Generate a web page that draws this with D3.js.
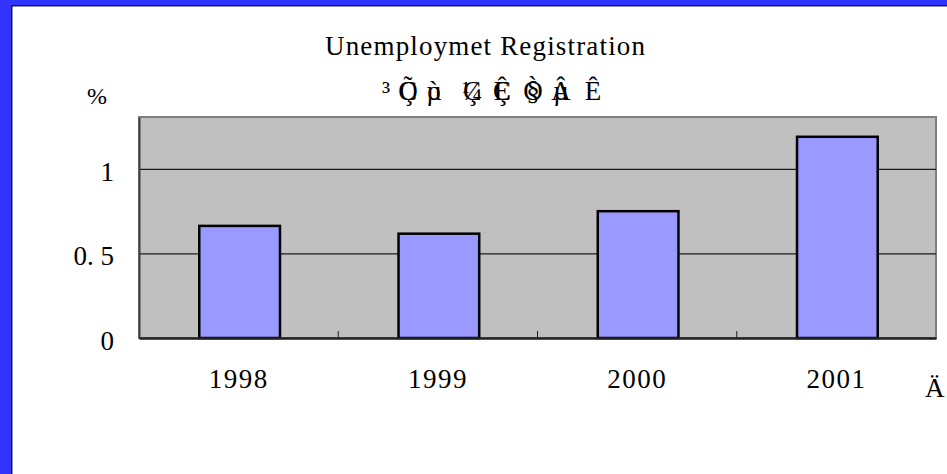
<!DOCTYPE html>
<html>
<head>
<meta charset="utf-8">
<script src="https://cdn.jsdelivr.net/npm/d3@7"></script>
<style>
    body { margin: 0; background: white; }
    svg { display: block; }
</style>
</head>
<body>
<svg id="chart"></svg>
<script>
//chart data
const years = ["1998", "1999", "2000", "2001"];
const rates = [0.663, 0.617, 0.75, 1.19];
const yTicks = [0, 0.5, 1];
const yTickLabels = ["0", "0. 5", "1"];
const title = "Unemploymet Registration";
//garbled subtitle, pairs of glyphs print on top of each other
const subtitleChars = ["³", "Ç", "Õ", "ò", "µ", "Ç", "¼", "Ç", "Ê", "§", "Ò", "µ", "Â", "Ê"];
const yUnit = "%";
const xUnit = "Ä";

class RateChart{
    constructor(svgId){
        this.width = 947;
        this.height = 474;
        this.plot = {left: 139, right: 936, top: 117, bottom: 338};
        this.svg = d3.select('#' + svgId)
            .attr("width", this.width)
            .attr("height", this.height);
        this.font = "'Liberation Serif', 'Times New Roman', serif";

        this.xScale = d3.scaleBand()
            .domain(years)
            .range([this.plot.left, this.plot.right])
            .padding(0);
        this.yScale = d3.scaleLinear()
            .domain([0, 1.307])
            .range([this.plot.bottom, this.plot.top]);

        this.drawFrame();
        this.drawTitles();
        this.drawPlot();
    }

    drawFrame(){
        //blue slide frame on left and top
        this.svg.append("rect")
            .attr("width", this.width)
            .attr("height", this.height)
            .attr("fill", "#3333FF");
        this.svg.append("rect")
            .attr("x", 11)
            .attr("y", 5)
            .attr("width", this.width)
            .attr("height", this.height)
            .attr("fill", "#1a1a40");
        this.svg.append("rect")
            .attr("x", 12.5)
            .attr("y", 6.5)
            .attr("width", this.width)
            .attr("height", this.height)
            .attr("fill", "white");
    }

    drawTitles(){
        this.svg.append("text")
            .attr("x", 325)
            .attr("y", 55)
            .attr("font-family", this.font)
            .attr("font-size", 27)
            .attr("textLength", 320)
            .attr("lengthAdjust", "spacing")
            .text(title);

        //overlapping glyph pairs
        let slotX = [386, 408, 434, 472, 502, 533, 561, 593];
        this.svg.append("g").selectAll("text").data(subtitleChars).join("text")
            .attr("x", (d, i) => slotX[Math.floor((i + 1) / 2)])
            .attr("y", 100)
            .attr("text-anchor", "middle")
            .attr("font-family", this.font)
            .attr("font-size", 27)
            .text(d => d);

        this.svg.append("text")
            .attr("x", 97)
            .attr("y", 104)
            .attr("text-anchor", "middle")
            .attr("font-family", this.font)
            .attr("font-size", 24)
            .text(yUnit);

        this.svg.append("text")
            .attr("x", 925)
            .attr("y", 397)
            .attr("font-family", this.font)
            .attr("font-size", 27)
            .text(xUnit);
    }

    drawPlot(){
        let p = this.plot;
        //grey plot area
        this.svg.append("rect")
            .attr("x", p.left)
            .attr("y", p.top)
            .attr("width", p.right - p.left)
            .attr("height", p.bottom - p.top)
            .attr("fill", "#C0C0C0")
            .attr("stroke", "#808080")
            .attr("stroke-width", 2);

        //gridlines
        this.svg.append("g").selectAll("line").data(yTicks.filter(d => d > 0)).join("line")
            .attr("x1", p.left)
            .attr("x2", p.right)
            .attr("y1", d => this.yScale(d) + 0.5)
            .attr("y2", d => this.yScale(d) + 0.5)
            .attr("stroke", "#1a1a1a")
            .attr("stroke-width", 1.2);

        //bars
        let barWidth = this.xScale.bandwidth() * 0.405;
        this.svg.append("g").selectAll("rect").data(rates).join("rect")
            .attr("x", (d, i) => this.xScale(years[i]) + this.xScale.bandwidth() / 2 - barWidth / 2 + 1)
            .attr("y", d => this.yScale(d))
            .attr("width", barWidth)
            .attr("height", d => this.yScale(0) - this.yScale(d))
            .attr("fill", "#9999FF")
            .attr("stroke", "black")
            .attr("stroke-width", 2.5);

        //y axis
        let yAxis = d3.axisLeft(this.yScale)
            .tickValues(yTicks)
            .tickSize(0)
            .tickPadding(25)
            .tickFormat((d, i) => yTickLabels[i]);
        let yG = this.svg.append("g")
            .attr("transform", `translate(${p.left},0)`)
            .call(yAxis);
        yG.select(".domain").attr("stroke", "#404040").attr("stroke-width", 2);
        yG.selectAll("text")
            .attr("font-family", this.font)
            .attr("font-size", 27)
            .attr("fill", "black")
            .attr("dy", "0.42em");

        //x axis, ticks between categories point up
        let xAxis = d3.axisBottom(this.xScale)
            .tickSize(0)
            .tickPadding(31);
        let xG = this.svg.append("g")
            .attr("transform", `translate(0,${p.bottom})`)
            .call(xAxis);
        xG.select(".domain").attr("stroke", "#202020").attr("stroke-width", 2.5);
        xG.selectAll("text")
            .attr("font-family", this.font)
            .attr("font-size", 27)
            .attr("letter-spacing", 1.5)
            .attr("fill", "black");
        xG.selectAll(".sep").data(years.slice(1)).join("line")
            .attr("class", "sep")
            .attr("x1", d => this.xScale(d))
            .attr("x2", d => this.xScale(d))
            .attr("y1", 0)
            .attr("y2", -7)
            .attr("stroke", "#202020")
            .attr("stroke-width", 1);
    }
}

new RateChart("chart");
</script>
</body>
</html>
